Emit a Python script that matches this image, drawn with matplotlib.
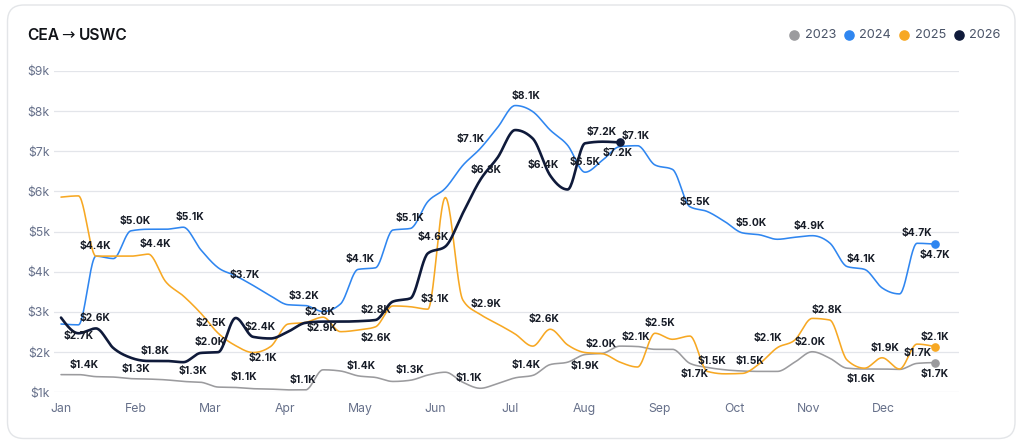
import numpy as np
import matplotlib
matplotlib.use("Agg")
import matplotlib.pyplot as plt
from matplotlib.patches import FancyBboxPatch
from matplotlib.lines import Line2D

plt.rcParams["font.family"] = ["Inter", "DejaVu Sans"]

# ---------------- data (values in $K, weekly points) ----------------
TITLE_FROM, TITLE_TO = "CEA", "USWC"
MONTHS = ["Jan", "Feb", "Mar", "Apr", "May", "Jun", "Jul", "Aug", "Sep", "Oct", "Nov", "Dec"]
YEARS = ["2023", "2024", "2025", "2026"]
Y_TICKS = [1, 2, 3, 4, 5, 6, 7, 8, 9]

V2023 = [1.44, 1.44, 1.39, 1.38, 1.34, 1.33, 1.31, 1.27, 1.25, 1.13,
         1.12, 1.09, 1.08, 1.06, 1.06, 1.56, 1.53, 1.41, 1.37, 1.27,
         1.30, 1.43, 1.50, 1.25, 1.10, 1.22, 1.36, 1.42, 1.69, 1.75,
         1.94, 1.97, 2.15, 2.14, 2.07, 2.07, 1.72, 1.62, 1.56, 1.53,
         1.52, 1.52, 1.75, 2.01, 1.85, 1.60, 1.58, 1.58, 1.57, 1.72,
         1.74]
V2024 = [2.70, 2.68, 4.39, 4.33, 5.02, 5.06, 5.06, 5.11, 4.55, 4.10,
         3.90, 3.66, 3.40, 3.18, 3.16, 3.01, 3.20, 4.06, 4.10, 5.04,
         5.08, 5.75, 6.08, 6.65, 7.07, 7.60, 8.14, 7.99, 7.53, 7.15,
         6.48, 6.78, 7.12, 7.14, 6.66, 6.55, 5.62, 5.50, 5.25, 4.97,
         4.92, 4.81, 4.86, 4.90, 4.72, 4.13, 4.06, 3.60, 3.45, 4.71,
         4.69]
V2025 = [5.86, 5.89, 4.39, 4.39, 4.39, 4.44, 3.75, 3.40, 2.97, 2.47,
         2.16, 1.99, 2.14, 2.70, 2.74, 2.87, 2.51, 2.55, 2.63, 3.15,
         3.13, 3.07, 5.85, 3.30, 2.94, 2.70, 2.45, 2.15, 2.57, 2.18,
         1.99, 1.96, 1.75, 1.63, 2.47, 2.32, 2.40, 1.52, 1.46, 1.47,
         1.72, 2.11, 2.30, 2.84, 2.80, 1.80, 1.60, 1.86, 1.58, 2.20,
         2.14]
V2026 = [2.86, 2.47, 2.59, 2.10, 1.86, 1.78, 1.78, 1.75, 1.98, 2.00,
         2.85, 2.38, 2.34, 2.51, 2.73, 2.76, 2.76, 2.77, 2.80, 3.26,
         3.34, 4.46, 4.63, 5.46, 6.29, 6.85, 7.53, 7.32, 6.40, 6.05,
         7.20, 7.24, 7.22]

# point labels: (week index, above/below, horizontal shift in px)
LABELS = {
    "2023": [(1, "a", 6), (4, "a", 5), (7, "a", 10), (10, "a", 8), (14, "a", -3),
             (17, "a", 3), (20, "a", 0), (24, "a", -11), (27, "a", -7), (30, "b", 0),
             (33, "a", -2), (36, "b", 5), (39, "a", 8), (43, "a", -2), (49, "a", 1),
             (50, "b", 0)],
    "2024": [(1, "b", 0), (2, "a", -1), (4, "a", 4), (7, "a", 7), (11, "a", -8),
             (14, "a", -2), (17, "a", 2), (20, "a", 0), (24, "a", -10), (26, "a", 11),
             (30, "a", 0), (33, "a", -2), (37, "a", -12), (39, "a", 9), (43, "a", -3),
             (46, "a", -3), (49, "a", 0), (50, "b", 0)],
    "2025": [(5, "a", 7), (9, "a", -7), (12, "b", -8), (15, "b", -1), (18, "b", 1),
             (21, "a", 7), (24, "a", 6), (28, "a", -6), (31, "a", -1), (34, "a", 5),
             (37, "a", 5), (41, "a", -9), (44, "a", -3), (46, "b", -4), (47, "a", 3),
             (50, "a", 0)],
    "2026": [(2, "a", -1), (5, "a", 7), (9, "a", -8), (11, "a", 7), (15, "a", -3),
             (18, "a", 1), (22, "a", -12), (24, "a", 6), (28, "a", -7), (31, "a", -1),
             (32, "b", -2)],
}

# ---------------- style ----------------
COLORS = {"2023": "#9b9b9e", "2024": "#2f86f0", "2025": "#f7a823", "2026": "#0f1a3a"}
WIDTHS = {"2023": 1.15, "2024": 1.15, "2025": 1.15, "2026": 1.9}
MONTH_STEP = 74.8 / 17.47          # weeks per month tick
W, H = 1024, 446


def monotone_curve(x, y, n=24):
    """d3 curveMonotoneX rendering of the points (drawing only)."""
    x = np.asarray(x, float)
    y = np.asarray(y, float)
    h = np.diff(x)
    s = np.diff(y) / h
    t = np.zeros_like(y)
    for i in range(1, len(y) - 1):
        p = (s[i - 1] * h[i] + s[i] * h[i - 1]) / (h[i - 1] + h[i])
        t[i] = (np.sign(s[i - 1]) + np.sign(s[i])) * min(abs(s[i - 1]), abs(s[i]), 0.5 * abs(p))
    t[0] = (3 * s[0] - t[1]) / 2
    t[-1] = (3 * s[-1] - t[-2]) / 2
    xs, ys = [], []
    u = np.linspace(0, 1, n, endpoint=False)
    for i in range(len(y) - 1):
        p0, p3 = y[i], y[i + 1]
        p1 = y[i] + t[i] * h[i] / 3
        p2 = y[i + 1] - t[i + 1] * h[i] / 3
        b = (1 - u) ** 3 * p0 + 3 * (1 - u) ** 2 * u * p1 + 3 * (1 - u) * u ** 2 * p2 + u ** 3 * p3
        xs.append(x[i] + u * h[i])
        ys.append(b)
    xs.append([x[-1]])
    ys.append([y[-1]])
    return np.concatenate(xs), np.concatenate(ys)


fig = plt.figure(figsize=(W / 100, H / 100), dpi=100)
fig.patch.set_facecolor("white")

card = FancyBboxPatch((7.5 / W, 1 - 438.5 / H), (1015 - 7.5) / W, (438.5 - 5) / H,
                      boxstyle="round,pad=0,rounding_size=0.016",
                      transform=fig.transFigure, facecolor="white",
                      edgecolor="#e3e5e8", linewidth=1.0, mutation_aspect=W / H,
                      zorder=-10)
fig.patches.append(card)

ax = fig.add_axes([54 / W, (H - 392.3) / H, 905 / W, 321.3 / H])
ax.set_zorder(5)
ax.set_facecolor("none")
x0 = -7 / 17.47
ax.set_xlim(x0, x0 + 905 / 17.47)
ax.set_ylim(1000, 9000)
for sp in ax.spines.values():
    sp.set_visible(False)
ax.set_yticks([v * 1000 for v in Y_TICKS])
ax.set_yticklabels([f"${v}k" for v in Y_TICKS])
ax.set_xticks([k * MONTH_STEP for k in range(len(MONTHS))])
ax.set_xticklabels(MONTHS)
ax.tick_params(axis="both", length=0, labelsize=8.8, labelcolor="#66708a")
ax.tick_params(axis="y", pad=3)
ax.tick_params(axis="x", pad=8)
ax.grid(axis="y", color="#e3e5ea", linewidth=0.9)
ax.set_axisbelow(True)

series = {"2023": V2023, "2024": V2024, "2025": V2025, "2026": V2026}
for z, name in enumerate(YEARS):
    vals = np.array(series[name]) * 1000
    xs = np.arange(len(vals))
    cx, cy = monotone_curve(xs, vals)
    ax.plot(cx, cy, color=COLORS[name], lw=WIDTHS[name], solid_capstyle="round",
            zorder=3 + z, clip_on=False)
    ax.plot([xs[-1]], [vals[-1]], "o", color=COLORS[name], markersize=5.2,
            zorder=3 + z, clip_on=False)

for name in YEARS:
    vals = series[name]
    for idx, pos, dx in LABELS[name]:
        v = vals[idx]
        dy = 10 if pos == "a" else -11
        ax.annotate(f"${v:.1f}K", (idx, v * 1000), xytext=(dx, dy),
                    textcoords="offset pixels", ha="center", va="center",
                    fontsize=7.4, fontweight="bold", color="#161b26", zorder=10)

# title: "CEA", thin long arrow, "USWC"
fig.canvas.draw()
renderer = fig.canvas.get_renderer()
ty = 1 - 36 / H
t1 = fig.text(27.5 / W, ty, TITLE_FROM, fontsize=11.2, fontweight="semibold",
              color="#111318", va="center", ha="left")
e1 = t1.get_window_extent(renderer)
t2 = fig.text((e1.x1 + 2) / W, ty, "→", fontsize=11.5, family="DejaVu Sans",
              color="#111318", va="center", ha="left")
e2 = t2.get_window_extent(renderer)
fig.text((e2.x1 + 4) / W, ty, TITLE_TO, fontsize=11.2, fontweight="semibold",
         color="#111318", va="center", ha="left")

# legend
leg_x = [794, 849, 904, 958.5]
for name, lx in zip(YEARS, leg_x):
    fig.add_artist(Line2D([lx / W], [1 - 35 / H], marker="o", markersize=6.6,
                          color=COLORS[name], linestyle="none",
                          transform=fig.transFigure))
    fig.text((lx + 10.5) / W, 1 - 35 / H, name, fontsize=9.2, color="#4a5468",
             va="center", ha="left")

fig.savefig("out.png", dpi=100, facecolor="white")
